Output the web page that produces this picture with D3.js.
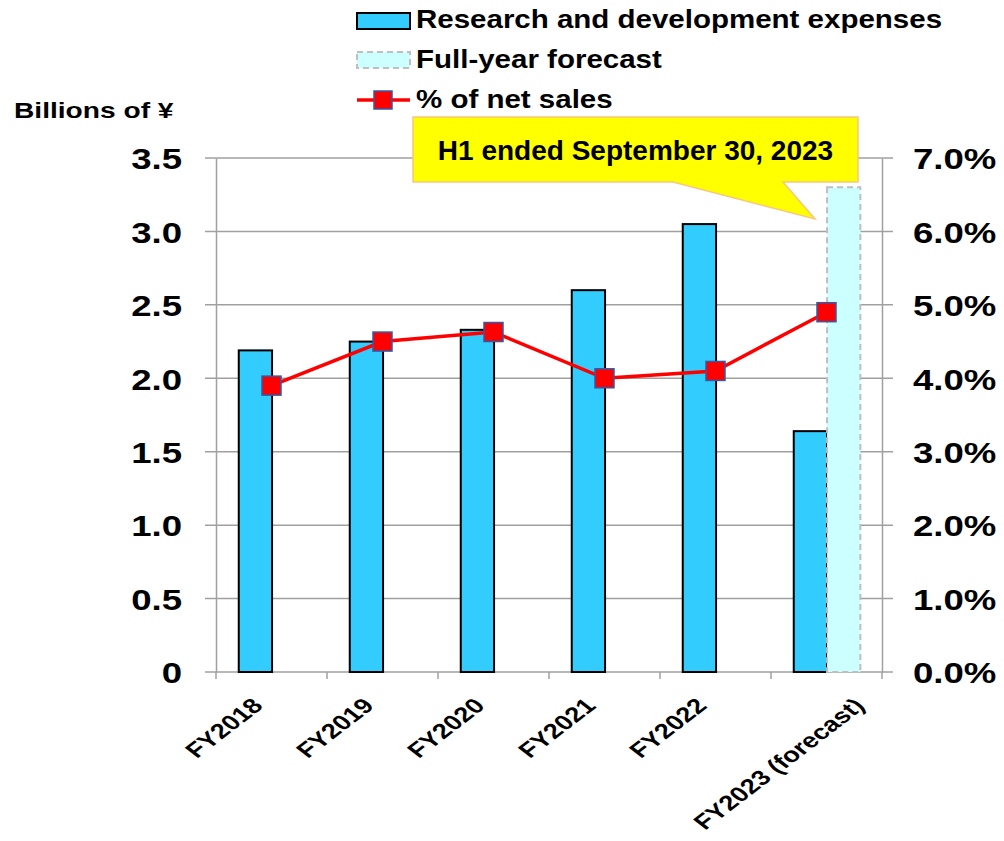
<!DOCTYPE html>
<html>
<head>
<meta charset="utf-8">
<script src="https://cdn.jsdelivr.net/npm/d3@7"></script>
<style>
	body { margin: 0; background: #fff; }
	text { font-family: 'Liberation Sans', Arial, sans-serif; font-weight: bold; fill: #000; }
</style>
</head>
<body>
<svg id="chart" width="1004" height="841"></svg>
<script>
// data
var categories = ['FY2018', 'FY2019', 'FY2020', 'FY2021', 'FY2022', 'FY2023 (forecast)'];
var rdExpenses = [2.19, 2.25, 2.33, 2.60, 3.05, 1.64];	// last one is H1 only
var fullYearForecast = [null, null, null, null, null, 3.30];
var pctOfSales = [3.9, 4.5, 4.63, 4.0, 4.1, 4.9];
var leftTicks = [0, 0.5, 1.0, 1.5, 2.0, 2.5, 3.0, 3.5];
var rightTicks = [0, 1, 2, 3, 4, 5, 6, 7];
var legendLabels = ['Research and development expenses', 'Full-year forecast', '% of net sales'];
var unitLabel = 'Billions of ¥';
var calloutLabel = 'H1 ended September 30, 2023';

var svg = d3.select('#chart');
var plotLeft = 216, plotRight = 882, plotTop = 158, plotBottom = 672;
var gridColor = '#a0a0a0';

var x = d3.scaleBand().domain(categories).range([plotLeft, plotRight]);
var y = d3.scaleLinear().domain([0, 3.5]).range([plotBottom, plotTop]);
var yPct = d3.scaleLinear().domain([0, 7]).range([plotBottom, plotTop]);
var bw = x.bandwidth();

// stretch text sideways like the original picture
stretch = function(sel, s) {
	sel.each(function() {
		var t = d3.select(this);
		var tr = t.attr('transform') || '';
		t.attr('transform', tr + ' scale(' + s + ',1)');
	});
};

// gridlines (with the little outer ticks on both sides)
svg.append('g').selectAll('line')
	.data(leftTicks)
	.enter().append('line')
		.attr('x1', plotLeft - 11)
		.attr('x2', plotRight + 11)
		.attr('y1', function(d) { return y(d); })
		.attr('y2', function(d) { return y(d); })
		.style('stroke', gridColor)
		.style('stroke-width', 1.5);

// left axis
var yAxis = svg.append('g')
	.attr('transform', 'translate(' + plotLeft + ',0)')
	.call(d3.axisLeft(y).tickValues(leftTicks).tickSize(0).tickSizeOuter(0)
		.tickFormat(function(d) { return d === 0 ? '0' : d.toFixed(1); }));
yAxis.select('.domain').style('stroke', gridColor).style('stroke-width', 1.5);
yAxis.selectAll('text')
	.attr('x', -34 / 1.22)
	.attr('dy', '0.36em')
	.style('font-size', '30px')
	.style('font-family', null)
	.call(stretch, 1.22);

// right axis
var yAxisR = svg.append('g')
	.attr('transform', 'translate(' + plotRight + ',0)')
	.call(d3.axisRight(yPct).tickValues(rightTicks).tickSize(0).tickSizeOuter(0)
		.tickFormat(function(d) { return d.toFixed(1) + '%'; }));
yAxisR.select('.domain').style('stroke', gridColor).style('stroke-width', 1.5);
yAxisR.selectAll('text')
	.attr('x', 31 / 1.22)
	.attr('dy', '0.36em')
	.style('font-size', '30px')
	.style('font-family', null)
	.call(stretch, 1.22);

// category boundary ticks
var bounds = categories.map(function(c) { return x(c); }).concat([x.range()[1]]);
svg.append('g').selectAll('line')
	.data(bounds)
	.enter().append('line')
		.attr('x1', function(d) { return d; })
		.attr('x2', function(d) { return d; })
		.attr('y1', plotBottom)
		.attr('y2', plotBottom + 7)
		.style('stroke', gridColor)
		.style('stroke-width', 1.5);

// bars
svg.append('g').selectAll('rect')
	.data(categories)
	.enter().append('rect')
		.attr('x', function(d) { return x(d) + bw * 0.205; })
		.attr('width', bw * 0.3)
		.attr('y', function(d, i) { return y(rdExpenses[i]); })
		.attr('height', function(d, i) { return plotBottom - y(rdExpenses[i]); })
		.style('fill', '#33ccff')
		.style('stroke', '#000')
		.style('stroke-width', 2);

// full-year forecast
svg.append('g').selectAll('rect')
	.data(categories.filter(function(d, i) { return fullYearForecast[i] !== null; }))
	.enter().append('rect')
		.attr('x', function(d) { return x(d) + bw * 0.505; })
		.attr('width', bw * 0.3)
		.attr('y', function(d) { return y(fullYearForecast[categories.indexOf(d)]); })
		.attr('height', function(d) { return plotBottom - y(fullYearForecast[categories.indexOf(d)]); })
		.style('fill', '#ccffff')
		.style('stroke', '#bfbfbf')
		.style('stroke-width', 2)
		.style('stroke-dasharray', '6,4');

// % of net sales line
var line = d3.line()
	.x(function(d, i) { return x(categories[i]) + bw / 2; })
	.y(function(d) { return yPct(d); });

svg.append('path')
	.datum(pctOfSales)
	.attr('d', line)
	.style('fill', 'none')
	.style('stroke', '#ff0000')
	.style('stroke-width', 3.5);

svg.append('g').selectAll('rect')
	.data(pctOfSales)
	.enter().append('rect')
		.attr('x', function(d, i) { return x(categories[i]) + bw / 2 - 9.5; })
		.attr('y', function(d) { return yPct(d) - 9.5; })
		.attr('width', 19)
		.attr('height', 19)
		.style('fill', '#ff0000')
		.style('stroke', '#2f5ba8')
		.style('stroke-width', 1.5);

// category labels, rotated
svg.append('g').selectAll('text')
	.data(categories)
	.enter().append('text')
		.attr('text-anchor', 'middle')
		.style('font-size', '21px')
		.text(function(d) { return d; })
		.attr('transform', function(d) {
			var len = this.getComputedTextLength();
			var cx = x(d) + bw / 2 - 41;
			var cy = plotBottom + 35 + 0.707 * len / 2;
			return 'translate(' + cx + ',' + cy + ') scale(1.3,1) rotate(-45)';
		});

// unit label
svg.append('text')
	.attr('transform', 'translate(14,118) scale(1.28,1)')
	.style('font-size', '22px')
	.text(unitLabel);

// legend
var legend = svg.append('g');
legend.append('rect')
	.attr('x', 357).attr('y', 13).attr('width', 53).attr('height', 16)
	.style('fill', '#33ccff').style('stroke', '#000').style('stroke-width', 2);
legend.append('rect')
	.attr('x', 357).attr('y', 52).attr('width', 53).attr('height', 16)
	.style('fill', '#ccffff').style('stroke', '#bfbfbf').style('stroke-width', 2)
	.style('stroke-dasharray', '6,4');
legend.append('line')
	.attr('x1', 357).attr('x2', 410).attr('y1', 100).attr('y2', 100)
	.style('stroke', '#ff0000').style('stroke-width', 3.5);
legend.append('rect')
	.attr('x', 374).attr('y', 91).attr('width', 18).attr('height', 18)
	.style('fill', '#ff0000').style('stroke', '#2f5ba8').style('stroke-width', 1.5);

legend.selectAll('text')
	.data(legendLabels)
	.enter().append('text')
		.attr('transform', function(d, i) { return 'translate(416,' + (28 + i * 40) + ') scale(1.18,1)'; })
		.style('font-size', '25px')
		.text(function(d) { return d; });

// callout
var callout = svg.append('g');
callout.append('path')
	.attr('d', 'M413,117 H858 V182 H783 L815,219 L673,182 H413 Z')
	.style('fill', '#ffff00')
	.style('stroke', '#f8c87c')
	.style('stroke-width', 1.5);
callout.append('text')
	.attr('x', 635.5)
	.attr('y', 160)
	.attr('text-anchor', 'middle')
	.style('font-size', '28px')
	.text(calloutLabel);
</script>
</body>
</html>
